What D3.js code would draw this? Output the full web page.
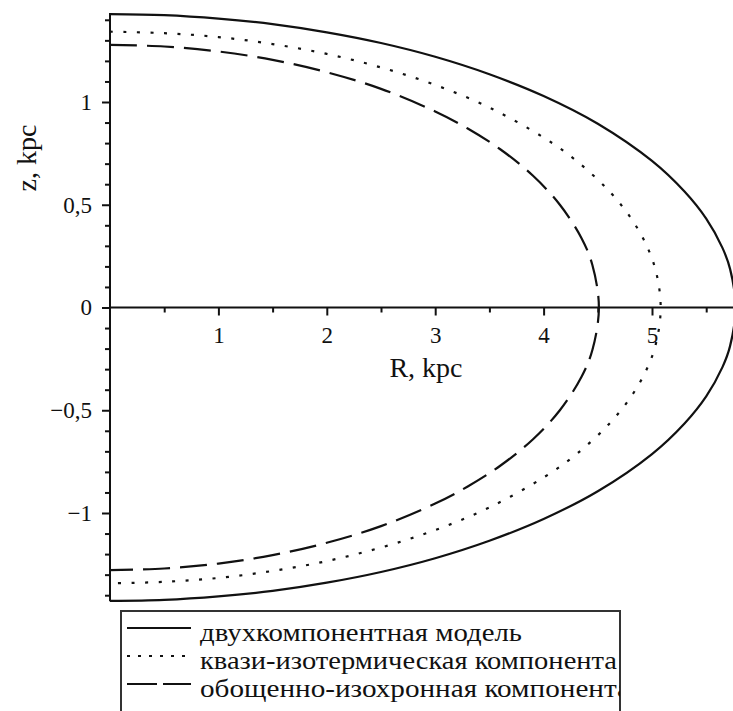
<!DOCTYPE html>
<html>
<head>
<meta charset="utf-8">
<script src="https://cdn.jsdelivr.net/npm/d3@7"></script>
<style>
  html, body { margin: 0; padding: 0; background: #fff; }
  svg { display: block; }
  svg text { font-family: "Liberation Serif", "DejaVu Serif", serif; fill: #111; }
</style>
</head>
<body>
<svg id="chart" width="733" height="711"></svg>
<script>
// Meridional cross-sections (R, z in kpc) of the model surfaces
const twoCompR = [0, 0.5, 1, 1.5, 2, 2.5, 3, 3.5, 4, 4.5, 5, 5.3, 5.5, 5.65, 5.72, 5.77,
                  5.72, 5.65, 5.5, 5.3, 5, 4.5, 4, 3.5, 3, 2.5, 2, 1.5, 1, 0.5, 0];
const twoCompZ = [1.428, 1.423, 1.406, 1.379, 1.339, 1.287, 1.220, 1.135, 1.029, 0.894, 0.713, 0.564, 0.432, 0.290, 0.188, 0,
                  -0.188, -0.290, -0.432, -0.564, -0.713, -0.894, -1.029, -1.135, -1.220, -1.287, -1.339, -1.379, -1.406, -1.423, -1.428];

const isoR = [0, 0.5, 1, 1.5, 2, 2.5, 3, 3.5, 4, 4.3, 4.6, 4.8, 4.95, 5.04, 5.08,
              5.04, 4.95, 4.8, 4.6, 4.3, 4, 3.5, 3, 2.5, 2, 1.5, 1, 0.5, 0];
const isoZ = [1.342, 1.335, 1.316, 1.282, 1.234, 1.168, 1.083, 0.973, 0.827, 0.715, 0.569, 0.439, 0.302, 0.168, 0,
              -0.168, -0.302, -0.439, -0.569, -0.715, -0.827, -0.973, -1.083, -1.168, -1.234, -1.282, -1.316, -1.335, -1.342];

const isochR = [0, 0.5, 1, 1.5, 2, 2.5, 3, 3.3, 3.6, 3.9, 4.15, 4.35, 4.45, 4.51,
                4.45, 4.35, 4.15, 3.9, 3.6, 3.3, 3, 2.5, 2, 1.5, 1, 0.5, 0];
const isochZ = [1.278, 1.270, 1.246, 1.205, 1.145, 1.064, 0.954, 0.871, 0.770, 0.642, 0.500, 0.337, 0.207, 0,
                -0.207, -0.337, -0.500, -0.642, -0.770, -0.871, -0.954, -1.064, -1.145, -1.205, -1.246, -1.270, -1.278];

const seriesNames = ["двухкомпонентная модель", "квази-изотермическая компонента", "обощенно-изохронная компонента"];

const rTicks = [1, 2, 3, 4, 5];
const rTickLabels = ["1", "2", "3", "4", "5"];
const rMinorTicks = [0.5, 1.5, 2.5, 3.5, 4.5, 5.5];
const zTicks = [-1, -0.5, 0, 0.5, 1];
const zTickLabels = ["\u22121", "\u22120,5", "0", "0,5", "1"];
const zMinorTicks = [-1.4, -1.3, -1.2, -1.1, -0.9, -0.8, -0.7, -0.6, -0.4, -0.3, -0.2, -0.1,
                     0.1, 0.2, 0.3, 0.4, 0.6, 0.7, 0.8, 0.9, 1.1, 1.2, 1.3, 1.4];

const FONT = "Liberation Serif, DejaVu Serif, serif";
const svg = d3.select("#chart");

const x = d3.scaleLinear().domain([0, 5.75]).range([110, 733.3]);
const y = d3.scaleLinear().domain([-1, 1]).range([513, 102]);

const ink = "#111";

// curves
const series = [
  { r: twoCompR, z: twoCompZ, dash: null },
  { r: isoR, z: isoZ, dash: "3,10.5" },
  { r: isochR, z: isochZ, dash: "27,10" }
];

const line = d3.line()
  .x(d => x(d[0]))
  .y(d => y(d[1]))
  .curve(d3.curveCatmullRom.alpha(0.5));

series.forEach(s => {
  const pts = s.r.map((r, i) => [r, s.z[i]]);
  svg.append("path")
    .attr("d", line(pts))
    .attr("fill", "none")
    .attr("stroke", ink)
    .attr("stroke-width", 2.2)
    .attr("stroke-dasharray", s.dash);
});

// z axis (vertical)
const gy = svg.append("g").attr("transform", `translate(${x(0)},0)`);
gy.append("line")
  .attr("x1", 0).attr("x2", 0)
  .attr("y1", y(1.433)).attr("y2", y(-1.43))
  .attr("stroke", ink).attr("stroke-width", 2);
gy.call(d3.axisLeft(y).tickValues(zMinorTicks).tickSize(5).tickFormat(""))
  .call(g => g.select(".domain").remove());
const gyMajor = svg.append("g").attr("transform", `translate(${x(0)},0)`)
  .call(d3.axisLeft(y).tickValues(zTicks).tickSize(8).tickPadding(10)
    .tickFormat((d, i) => zTickLabels[i]))
  .call(g => g.select(".domain").remove());
gyMajor.attr("font-family", FONT);
gyMajor.selectAll("text").attr("font-size", 23).attr("fill", ink)
  .attr("font-family", FONT);

// R axis (horizontal at z = 0)
svg.append("line")
  .attr("x1", x(0)).attr("x2", 733)
  .attr("y1", y(0)).attr("y2", y(0))
  .attr("stroke", ink).attr("stroke-width", 2);
svg.append("g").attr("transform", `translate(0,${y(0)})`)
  .call(d3.axisBottom(x).tickValues(rMinorTicks).tickSize(5).tickFormat(""))
  .call(g => g.select(".domain").remove());
const gxMajor = svg.append("g").attr("transform", `translate(0,${y(0)})`)
  .call(d3.axisBottom(x).tickValues(rTicks).tickSize(8).tickPadding(11)
    .tickFormat((d, i) => rTickLabels[i]))
  .call(g => g.select(".domain").remove());
gxMajor.attr("font-family", FONT);
gxMajor.selectAll("text").attr("font-size", 23).attr("fill", ink)
  .attr("font-family", FONT);
svg.selectAll(".tick line").attr("stroke", ink).attr("stroke-width", 2);

// axis titles
svg.append("text")
  .attr("x", 426).attr("y", 377)
  .attr("text-anchor", "middle")
  .attr("font-family", FONT)
  .attr("font-size", 28)
  .text("R, kpc");
svg.append("text")
  .attr("transform", "translate(36,158) rotate(-90)")
  .attr("text-anchor", "middle")
  .attr("font-family", FONT)
  .attr("font-size", 28)
  .text("z, kpc");

// legend
const legend = svg.append("g");
const box = { x0: 121, y0: 611, x1: 620, y1: 730 };
legend.append("clipPath").attr("id", "legend-clip")
  .append("rect")
  .attr("x", box.x0).attr("y", box.y0)
  .attr("width", box.x1 - box.x0).attr("height", box.y1 - box.y0);
legend.append("rect")
  .attr("x", box.x0).attr("y", box.y0)
  .attr("width", box.x1 - box.x0).attr("height", box.y1 - box.y0)
  .attr("fill", "#fff").attr("stroke", "#333").attr("stroke-width", 2);

const rowY = [628, 656, 684];
const legendDash = [null, "3,8", "30,6"];
const legendLen = [322, 417, 430];
seriesNames.forEach((name, i) => {
  legend.append("line")
    .attr("x1", 127).attr("x2", 191)
    .attr("y1", rowY[i]).attr("y2", rowY[i])
    .attr("stroke", ink).attr("stroke-width", 2.2)
    .attr("stroke-dasharray", legendDash[i]);
  legend.append("text")
    .attr("clip-path", "url(#legend-clip)")
    .attr("x", 200).attr("y", rowY[i] + 13)
    .attr("font-family", FONT)
    .attr("font-size", 25)
    .attr("textLength", legendLen[i])
    .attr("lengthAdjust", "spacingAndGlyphs")
    .text(name);
});
</script>
</body>
</html>
